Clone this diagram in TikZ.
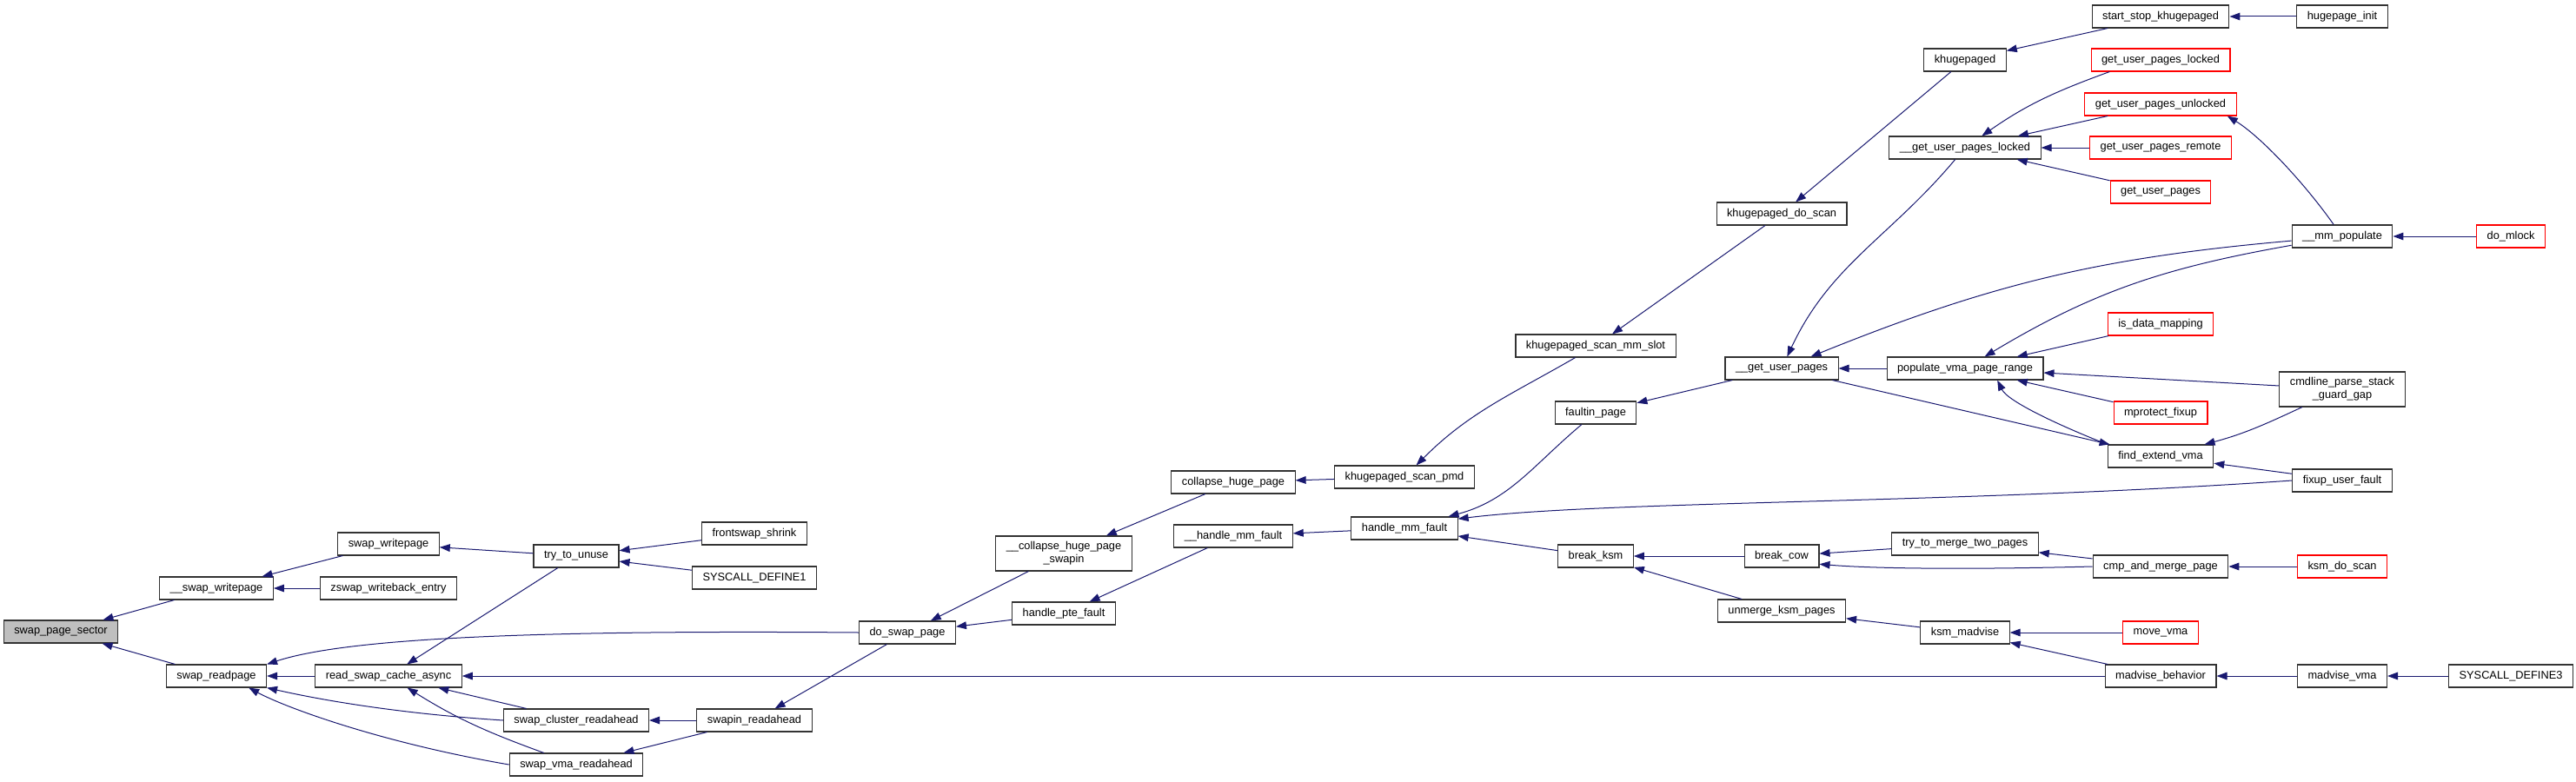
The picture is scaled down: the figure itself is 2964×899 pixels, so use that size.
\documentclass[tikz,border=0pt]{standalone}
\usepackage{fontspec}
\setmainfont{Liberation Sans}
\usetikzlibrary{arrows.meta}
\definecolor{edgeblue}{HTML}{191970}
\tikzset{
  box/.style = {rectangle, draw=black!80, line width=0.8pt, fill=white, minimum height=19.5pt, inner xsep=9pt, inner ysep=2pt, align=center, font=\fontsize{9.6}{11.5}\selectfont},
  boxred/.style = {box, draw=red},
  boxcur/.style = {box, fill=black!25},
  arr/.style = {-{Triangle[length=9pt,width=6.5pt]}, draw=edgeblue, line width=0.75pt}
}

\begin{document}
\begin{tikzpicture}[x=0.75pt, y=0.75pt]
\useasboundingbox (0,0) rectangle (2964,-899);

% Left part (swap side)
\node[boxcur] (spsec) at (70,-727) {swap\_page\_sector};
\node[box] (swwp) at (249,-677) {\_\_swap\_writepage};
\node[box] (swrp) at (249,-778) {swap\_readpage};
\node[box] (swpage) at (447,-626) {swap\_writepage};
\node[box] (zswap) at (447,-677) {zswap\_writeback\_entry};
\node[box] (rsca) at (447,-778) {read\_swap\_cache\_async};
\node[box] (ttu) at (663,-640) {try\_to\_unuse};
\node[box] (scr) at (663,-829) {swap\_cluster\_readahead};
\node[box] (svr) at (663,-880) {swap\_vma\_readahead};
\node[box] (fshrink) at (868,-614) {frontswap\_shrink};
\node[box] (sysdef1) at (868,-665) {SYSCALL\_DEFINE1};
\node[box] (swapin) at (868,-829) {swapin\_readahead};
\node[box] (dsp) at (1044,-728) {do\_swap\_page};

% Middle (faults, khugepaged)
\node[box, minimum height=30pt] (chps) at (1224,-637) {\_\_collapse\_huge\_page\\\_swapin};
\node[box] (hpte) at (1224,-706) {handle\_pte\_fault};
\node[box] (chp) at (1419,-555) {collapse\_huge\_page};
\node[box] (hmmf2) at (1419,-617) {\_\_handle\_mm\_fault};
\node[box] (kspmd) at (1616,-549) {khugepaged\_scan\_pmd};
\node[box] (hmmf) at (1616,-608) {handle\_mm\_fault};
\node[box] (ksmslot) at (1836,-398) {khugepaged\_scan\_mm\_slot};
\node[box] (faultin) at (1836,-475) {faultin\_page};
\node[box] (bksm) at (1836,-640) {break\_ksm};
\node[box] (kdoscan) at (2050,-246) {khugepaged\_do\_scan};
\node[box] (gup) at (2050,-424) {\_\_get\_user\_pages};
\node[box] (bcow) at (2050,-640) {break\_cow};
\node[box] (unmerge) at (2050,-703) {unmerge\_ksm\_pages};

% Right part
\node[box] (khp) at (2261,-69) {khugepaged};
\node[box] (guplocked) at (2261,-170) {\_\_get\_user\_pages\_locked};
\node[box] (pvpr) at (2261,-424) {populate\_vma\_page\_range};
\node[box] (ttm) at (2261,-626) {try\_to\_merge\_two\_pages};
\node[box] (ksmmad) at (2261,-728) {ksm\_madvise};
\node[box] (sskh) at (2486,-19) {start\_stop\_khugepaged};
\node[boxred] (gupl) at (2486,-69) {get\_user\_pages\_locked};
\node[boxred] (gupu) at (2486,-120) {get\_user\_pages\_unlocked};
\node[boxred] (gupr) at (2486,-170) {get\_user\_pages\_remote};
\node[boxred] (gupp) at (2486,-221) {get\_user\_pages};
\node[boxred] (isdm) at (2486,-373) {is\_data\_mapping};
\node[boxred] (mprot) at (2486,-475) {mprotect\_fixup};
\node[box] (fev) at (2486,-525) {find\_extend\_vma};
\node[box] (cmp) at (2486,-652) {cmp\_and\_merge\_page};
\node[boxred] (movevma) at (2486,-728) {move\_vma};
\node[box] (madb) at (2486,-778) {madvise\_behavior};
\node[box] (hpinit) at (2695,-19) {hugepage\_init};
\node[box] (mmpop) at (2695,-272) {\_\_mm\_populate};
\node[box, minimum height=30pt] (cmdl) at (2695,-448) {cmdline\_parse\_stack\\\_guard\_gap};
\node[box] (fuf) at (2695,-553) {fixup\_user\_fault};
\node[boxred] (ksmdo) at (2695,-652) {ksm\_do\_scan};
\node[box] (madvma) at (2695,-778) {madvise\_vma};
\node[boxred] (domlock) at (2889,-272) {do\_mlock};
\node[box] (sysdef3) at (2889,-778) {SYSCALL\_DEFINE3};

% ----- callers -> callees -----
\draw[arr] (swwp) -- (spsec);
\draw[arr] (swrp) -- (spsec);
\draw[arr] (swpage) -- (swwp);
\draw[arr] (zswap) -- (swwp);
\draw[arr] (ttu) -- (swpage);
\draw[arr] (fshrink) -- (ttu);
\draw[arr] (sysdef1) -- (ttu);
\draw[arr] (rsca) -- (swrp);
\draw[arr] (dsp.west) .. controls (620,-725) and (400,-734) .. (swrp.north east);
\draw[arr] (scr.west) .. controls (470,-822) and (380,-808) .. (swrp.south east);
\draw[arr] (svr.west) .. controls (440,-855) and (330,-815) .. (swrp.-20);
\draw[arr] (ttu) -- (rsca);
\draw[arr] (scr) -- (rsca);
\draw[arr] (svr) to[out=160, in=-32] (rsca);
\draw[arr] (madb) -- (rsca);
\draw[arr] (swapin) -- (scr);
\draw[arr] (swapin) -- (svr);
\draw[arr] (dsp) -- (swapin);

% do_swap_page and the fault path
\draw[arr] (chps) -- (dsp);
\draw[arr] (hpte) -- (dsp);
\draw[arr] (chp) -- (chps);
\draw[arr] (hmmf2) -- (hpte);
\draw[arr] (kspmd) -- (chp);
\draw[arr] (hmmf) -- (hmmf2);
\draw[arr] (ksmslot) to[out=-150, in=45] (kspmd);
\draw[arr] (kdoscan) -- (ksmslot);
\draw[arr] (khp) -- (kdoscan);
\draw[arr] (sskh) -- (khp);
\draw[arr] (hpinit) -- (sskh);
\draw[arr] (faultin) to[out=-140, in=15] (hmmf);
\draw[arr] (fuf.west) .. controls (2250,-580) and (1850,-576) .. (hmmf.10);
\draw[arr] (bksm) -- (hmmf);

% get_user_pages family
\draw[arr] (gup) -- (faultin);
\draw[arr] (guplocked) to[out=-130, in=65] (gup);
\draw[arr] (pvpr) -- (gup);
\draw[arr] (mmpop) to[out=185, in=22] (gup);
\draw[arr] (gup) -- (fev);
\draw[arr] (fev.north west) .. controls (2370,-490) and (2310,-462) .. (pvpr.-20);
\draw[arr] (mprot) -- (pvpr);
\draw[arr] (isdm) -- (pvpr);
\draw[arr] (mmpop) to[out=190, in=31] (pvpr);
\draw[arr] (mmpop.126) .. controls (2651,-210) and (2601,-157) .. (gupu.-10);
\draw[arr] (domlock) -- (mmpop);
\draw[arr] (cmdl) -- (pvpr);
\draw[arr] (cmdl.-156) to[out=-155, in=15] (fev);
\draw[arr] (fuf) -- (fev);
\draw[arr] (gupl.-167) to[out=-160, in=35] (guplocked);
\draw[arr] (gupu) -- (guplocked);
\draw[arr] (gupr) -- (guplocked);
\draw[arr] (gupp) -- (guplocked);

% ksm / madvise
\draw[arr] (bcow) -- (bksm);
\draw[arr] (unmerge) -- (bksm);
\draw[arr] (ttm) -- (bcow);
\draw[arr] (cmp.west) .. controls (2250,-656) and (2150,-654) .. (bcow.-12);
\draw[arr] (cmp) -- (ttm);
\draw[arr] (ksmdo) -- (cmp);
\draw[arr] (ksmmad) -- (unmerge);
\draw[arr] (movevma) -- (ksmmad);
\draw[arr] (madb) -- (ksmmad);
\draw[arr] (madvma) -- (madb);
\draw[arr] (sysdef3) -- (madvma);

\end{tikzpicture}
\end{document}
